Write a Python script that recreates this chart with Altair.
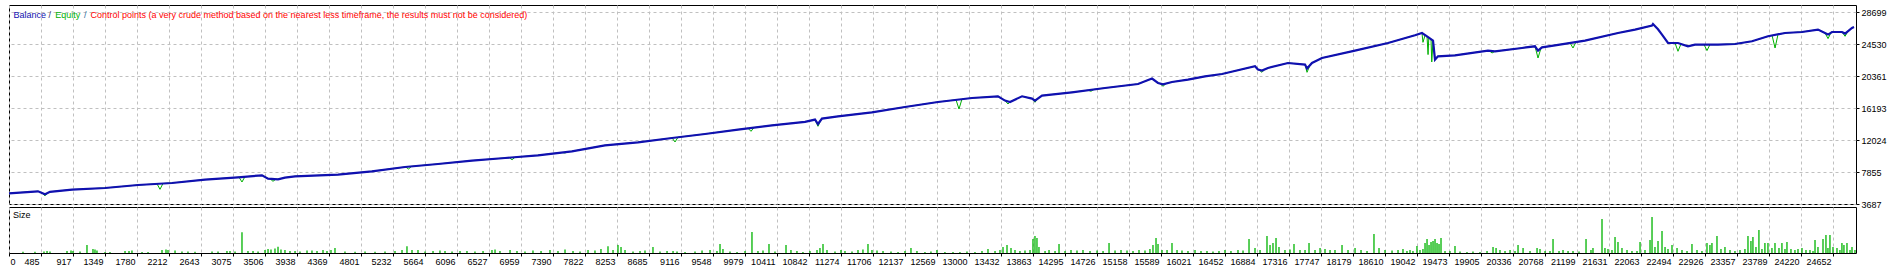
import json
import numpy as np
import altair as alt
import pandas as pd

# ---------------- data ----------------
x_labels = ["0", "485", "917", "1349", "1780", "2212", "2643", "3075", "3506", "3938",
            "4369", "4801", "5232", "5664", "6096", "6527", "6959", "7390", "7822", "8253",
            "8685", "9116", "9548", "9979", "10411", "10842", "11274", "11706", "12137", "12569",
            "13000", "13432", "13863", "14295", "14726", "15158", "15589", "16021", "16452", "16884",
            "17316", "17747", "18179", "18610", "19042", "19473", "19905", "20336", "20768", "21199",
            "21631", "22063", "22494", "22926", "23357", "23789", "24220", "24652"]
TICK_STEP = 432.5
X_MAX = 24964

y_ticks = [3687, 7855, 12024, 16193, 20361, 24530, 28699]
Y_MIN, Y_MAX = 3687, 29611

balance_trades = [0, 392, 487, 554, 852, 1298, 1744, 2203, 2649, 3095, 3420, 3501, 3636, 3730, 3866,
                  4447, 4906, 5352, 5798, 6258, 6704, 7150, 7609, 8055, 8502, 8961, 9407, 9853, 10313,
                  10759, 10894, 10934, 10988, 11205, 11664, 12110, 12556, 13016, 13367, 13462, 13529,
                  13692, 13827, 13867, 13962, 14367, 14813, 15260, 15449, 15530, 15598, 15719, 15935,
                  16165, 16395, 16841, 16881, 16935, 17016, 17287, 17517, 17544, 17611, 17746, 18192,
                  18639, 19003, 19098, 19166, 19247, 19274, 19314, 19544, 19990, 20085, 20450, 20625,
                  20666, 20720, 20896, 21301, 21747, 21977, 22207, 22220, 22288, 22342, 22423, 22558,
                  22693, 22788, 23099, 23329, 23558, 23775, 24004, 24234, 24450, 24586, 24640, 24775,
                  24816, 24910, 24937]
balance_values = [5081, 5342, 4951, 5276, 5563, 5771, 6162, 6423, 6866, 7165, 7426, 6996, 6905, 7126, 7296,
                  7517, 7947, 8507, 8898, 9341, 9680, 10032, 10553, 11334, 11725, 12285, 12807, 13380, 13940,
                  14396, 14683, 14109, 14813, 15112, 15634, 16324, 16976, 17497, 17718, 17158, 16976,
                  17718, 17419, 17158, 17809, 18239, 18799, 19321, 20024, 19451, 19281, 19581, 19894,
                  20323, 20623, 21626, 21197, 21066, 21405, 22056, 21848, 21327, 22056, 22708, 23672,
                  24662, 25666, 25965, 25535, 24975, 22499, 22930, 23060, 23672, 23581, 24011, 24232,
                  23672, 24102, 24362, 24975, 25965, 26408, 26929, 27137, 26447, 25756, 24662, 24662,
                  24232, 24454, 24454, 24532, 24884, 25535, 25965, 26095, 26408, 25756, 26095, 26095,
                  25887, 26616, 26747]

equity_dip_trades = [487, 2041, 3149, 3568, 5400, 6800, 7515, 9002, 10029, 10934, 12840, 13502, 13867,
                     14624, 15598, 16935, 17544, 19111, 19180, 19230, 20045, 20666, 21139, 22558, 22950,
                     23870, 24586, 24816]
equity_dip_values = [4755, 5600, 6553, 6645, 8250, 9450, 10331, 11764, 13158, 13810, 16064, 16715, 16937,
                     18369, 19021, 20844, 20844, 24750, 23150, 22190, 23360, 22708, 24011, 23581, 23672,
                     24011, 25236, 25535]

size_trades = [189, 351, 473, 514, 554, 784, 838, 865, 960, 1054, 1135, 1162, 1189, 1298, 1365, 1568, 1622,
               1662, 1798, 1879, 2068, 2122, 2149, 2244, 2338, 2419, 2514, 2744, 2825, 2946, 2987, 3055,
               3149, 3230, 3298, 3366, 3460, 3501, 3541, 3595, 3636, 3676, 3730, 3798, 3866, 3933, 4028,
               4095, 4163, 4244, 4298, 4352, 4406, 4541, 4677, 4812, 4947, 5082, 5217, 5312, 5379, 5447,
               5528, 5623, 5731, 5825, 5893, 5988, 6096, 6190, 6298, 6407, 6528, 6569, 6636, 6772, 6866,
               6974, 7082, 7191, 7312, 7420, 7515, 7623, 7718, 7826, 7920, 8001, 8096, 8164, 8231, 8272,
               8326, 8434, 8529, 8596, 8704, 8799, 8894, 8975, 9029, 9137, 9272, 9367, 9475, 9569, 9610,
               9650, 9745, 9840, 9948, 10042, 10123, 10191, 10272, 10353, 10502, 10569, 10650, 10731,
               10826, 10921, 10961, 11002, 11056, 11164, 11245, 11299, 11394, 11475, 11542, 11610, 11664,
               11732, 11813, 11921, 12016, 12110, 12191, 12272, 12380, 12461, 12542, 12650, 12759, 12853,
               12948, 13056, 13151, 13232, 13327, 13394, 13435, 13489, 13543, 13597, 13664, 13732, 13800,
               13840, 13867, 13894, 13921, 14003, 14057, 14138, 14192, 14273, 14354, 14435, 14516, 14611,
               14706, 14787, 14868, 14949, 15030, 15111, 15192, 15273, 15354, 15421, 15462, 15503, 15530,
               15584, 15652, 15719, 15787, 15854, 15935, 16030, 16111, 16192, 16273, 16354, 16435, 16516,
               16611, 16679, 16760, 16841, 16909, 17003, 17044, 17084, 17125, 17165, 17246, 17314, 17368,
               17449, 17517, 17571, 17652, 17720, 17787, 17855, 17922, 18017, 18098, 18193, 18274, 18355,
               18449, 18517, 18598, 18693, 18774, 18841, 18895, 18936, 18976, 19030, 19071, 19111, 19139,
               19166, 19193, 19220, 19247, 19274, 19301, 19328, 19355, 19409, 19476, 19544, 19612, 19706,
               19787, 19882, 19977, 20058, 20099, 20152, 20220, 20288, 20355, 20396, 20464, 20558, 20653,
               20693, 20761, 20828, 20869, 20950, 21004, 21072, 21139, 21220, 21315, 21382, 21409, 21531,
               21571, 21612, 21666, 21707, 21747, 21801, 21869, 21936, 22004, 22045, 22112, 22180, 22207,
               22247, 22288, 22342, 22383, 22423, 22477, 22545, 22612, 22680, 22747, 22815, 22882, 22950,
               22990, 23017, 23085, 23139, 23193, 23261, 23328, 23396, 23463, 23504, 23544, 23571, 23612,
               23652, 23693, 23733, 23774, 23828, 23869, 23923, 23963, 24004, 24031, 24085, 24139, 24180,
               24234, 24288, 24342, 24383, 24410, 24450, 24518, 24558, 24585, 24612, 24653, 24707, 24747,
               24774, 24801, 24842, 24883, 24910, 24950]
size_lots = [0.13, 0.13, 0.15, 0.2, 0.15, 0.2, 0.25, 0.2, 0.15, 0.8, 0.4, 0.35, 0.25, 0.1, 0.1, 0.2, 0.2,
             0.25, 0.1, 0.1, 0.3, 0.35, 0.3, 0.25, 0.15, 0.15, 0.12, 0.15, 0.15, 0.2, 0.2, 0.15,
             2.07, 0.2, 0.2, 0.15, 0.3, 0.4, 0.35, 0.45, 0.63, 0.35, 0.3, 0.2, 0.2, 0.15, 0.25,
             0.25, 0.2, 0.3, 0.2, 0.3, 0.5, 0.15, 0.12, 0.15, 0.12, 0.15, 0.2, 0.3, 0.67, 0.3,
             0.3, 0.15, 0.2, 0.25, 0.2, 0.15, 0.2, 0.2, 0.15, 0.2, 0.3, 0.35, 0.2, 0.3, 0.2,
             0.15, 0.25, 0.2, 0.3, 0.2, 0.35, 0.2, 0.15, 0.3, 0.25, 0.4, 0.67, 0.3, 0.8, 0.6,
             0.3, 0.15, 0.2, 0.25, 0.6, 0.15, 0.2, 0.2, 0.15, 0.1, 0.15, 0.25, 0.3, 0.2, 0.9,
             0.4, 0.15, 0.1, 0.2, 2.1, 0.2, 0.25, 0.9, 0.15, 0.8, 0.3, 0.2, 0.1,
             0.2, 0.3, 0.5, 0.9, 0.3, 0.15, 0.3, 0.2, 0.15, 0.3, 0.35, 0.9, 0.3,
             0.25, 0.2, 0.15, 0.1, 0.2, 0.5, 0.2, 0.1, 0.15, 0.3, 0.1, 0.1, 0.1,
             0.15, 0.1, 0.2, 0.4, 0.2, 0.3, 0.6, 0.8, 0.5, 0.3, 0.2, 0.25, 0.3,
             1.4, 1.7, 1.5, 0.6, 0.2, 0.3, 0.2, 0.9, 0.2, 0.3, 0.25, 0.3, 0.2,
             0.25, 0.2, 1.0, 0.25, 0.3, 0.25, 0.2, 0.3, 0.25, 0.4, 0.8, 1.5, 0.9,
             0.3, 0.3, 1.0, 0.3, 0.25, 0.2, 0.3, 0.2, 0.2, 0.15, 0.2, 0.3, 0.2,
             0.3, 0.25, 1.4, 0.5, 0.3, 1.7, 0.8, 1.0, 1.5, 0.6, 0.3, 0.35, 0.9,
             0.3, 0.3, 1.0, 0.3, 0.5, 0.4, 0.3, 0.3, 0.8, 0.3, 0.5, 0.3, 0.2,
             1.9, 0.5, 0.3, 0.25, 0.3, 0.4, 0.2, 0.3, 0.2, 0.7, 0.3, 0.4, 1.0,
             1.4, 0.8, 1.1, 1.2, 1.4, 1.0, 0.9, 1.5, 0.2, 0.2, 0.7, 0.15, 0.1,
             0.15, 0.1, 0.2, 0.6, 0.5, 0.3, 0.2, 0.3, 0.2, 0.8, 0.5, 0.2, 0.5,
             0.4, 0.2, 0.2, 1.4, 0.2, 0.3, 0.2, 0.2, 0.15, 1.4, 0.3, 0.5, 3.4,
             0.5, 0.4, 0.3, 1.6, 1.1, 0.5, 0.3, 0.2, 0.2, 1.1, 0.3, 1.3, 3.6,
             0.6, 1.2, 2.2, 0.6, 0.4, 0.8, 0.5, 0.3, 0.2, 0.9, 0.3, 0.2, 1.0,
             0.8, 1.0, 1.7, 0.4, 0.6, 0.3, 0.2, 0.3, 0.4, 1.7, 1.2, 1.6, 0.6,
             2.3, 0.4, 1.0, 1.0, 0.5, 1.0, 0.5, 1.0, 0.4, 1.1, 0.4, 0.3, 0.4,
             0.5, 0.3, 0.3, 0.2, 1.3, 0.6, 1.4, 1.8, 0.5, 1.8, 0.6, 0.5, 0.3,
             1.0, 0.8, 1.0, 0.3, 0.6, 0.3]
SIZE_MAX = 4.6

legend_parts = ["Balance", "/", "Equity", "/",
                "Control points (a very crude method based on the nearest less timeframe, the results must not be considered)"]
legend_colors = ["#1010b0", "#303070", "#00b000", "#3070a0", "#ff0000"]

# ---------------- tables ----------------
balance_df = pd.DataFrame({"t": balance_trades, "v": balance_values})
eq = dict(zip(balance_trades, balance_values))
# equity dips are narrow spikes: the equity rejoins the balance just around each dip
for dt in equity_dip_trades:
    for off in (-40, 40):
        tt = dt + off
        if tt not in eq:
            eq[tt] = float(np.interp(tt, balance_trades, balance_values))
eq.update(dict(zip(equity_dip_trades, equity_dip_values)))
equity_df = pd.DataFrame(sorted(eq.items()), columns=["t", "v"])
size_df = pd.DataFrame({"t": size_trades, "s": size_lots})

tick_vals = [i * TICK_STEP for i in range(len(x_labels))]
label_expr = json.dumps(x_labels) + "[round(datum.value / %s)]" % TICK_STEP

FONT = "Liberation Sans"
GRID = dict(grid=True, gridColor="#c0c0c0", gridDash=[3, 3], gridWidth=1)
W = 1847

xscale = alt.Scale(domain=[0, X_MAX], nice=False, zero=False)
yscale = alt.Scale(domain=[Y_MIN, Y_MAX], nice=False, zero=False)

x_main = alt.X("t:Q", scale=xscale, title=None,
               axis=alt.Axis(values=tick_vals, tickCount=200, labels=False, ticks=False, domain=False, **GRID))
y_main = alt.Y("v:Q", scale=yscale, title=None,
               axis=alt.Axis(orient="right", values=y_ticks, tickCount=50, format="d", domain=False,
                             tickSize=3, tickColor="black", labelPadding=2, labelFontSize=9,
                             labelColor="black", labelFont=FONT, labelFlush=False, labelOverlap=False,
                             **GRID))

equity_line = alt.Chart(equity_df).mark_line(color="#00b000", strokeWidth=1).encode(x=x_main, y=y_main)
balance_line = alt.Chart(balance_df).mark_line(color="#1010b0", strokeWidth=2.2).encode(x="t:Q", y="v:Q")

legend_x = [4.4, 39.5, 46.3, 75, 81.5]
legend_layers = []
for txt, col, lx in zip(legend_parts, legend_colors, legend_x):
    legend_layers.append(
        alt.Chart(pd.DataFrame({"s": [txt]})).mark_text(
            align="left", baseline="middle", font=FONT, fontSize=9, color=col
        ).encode(text="s:N", x=alt.value(lx), y=alt.value(10))
    )

main = alt.layer(equity_line, balance_line, *legend_layers).properties(width=W, height=199)

x_size = alt.X("t:Q", scale=xscale, title=None,
               axis=alt.Axis(values=tick_vals, tickCount=200, labelExpr=label_expr, domain=False,
                             tickSize=3, tickColor="black", labelPadding=1, labelFontSize=9,
                             labelColor="black", labelFont=FONT, labelFlush=False,
                             labelAlign=alt.condition("datum.value == 0", alt.value("left"), alt.value("right")),
                             labelOffset=alt.condition("datum.value == 0", alt.value(1), alt.value(-2)),
                             labelOverlap=False, **GRID))

size_bars = alt.Chart(size_df).mark_rule(color="#00b400", strokeWidth=1.3).encode(
    x=x_size,
    y=alt.Y("s:Q", scale=alt.Scale(domain=[0, SIZE_MAX], nice=False), axis=None),
    y2=alt.datum(0),
)
size_label = alt.Chart(pd.DataFrame({"s": ["Size"]})).mark_text(
    align="left", baseline="middle", font=FONT, fontSize=9, color="black"
).encode(text="s:N", x=alt.value(4), y=alt.value(8))

size_panel = alt.layer(size_bars, size_label).properties(width=W, height=46)

chart = alt.vconcat(main, size_panel, spacing=3, bounds="flush").resolve_scale(
    x="independent", y="independent"
).properties(
    padding={"left": 4, "top": 4, "right": 0, "bottom": 0},
    background="white",
).configure_view(stroke="black", strokeWidth=1)

chart.save("out.html", embed_options={"renderer": "svg", "actions": False})
